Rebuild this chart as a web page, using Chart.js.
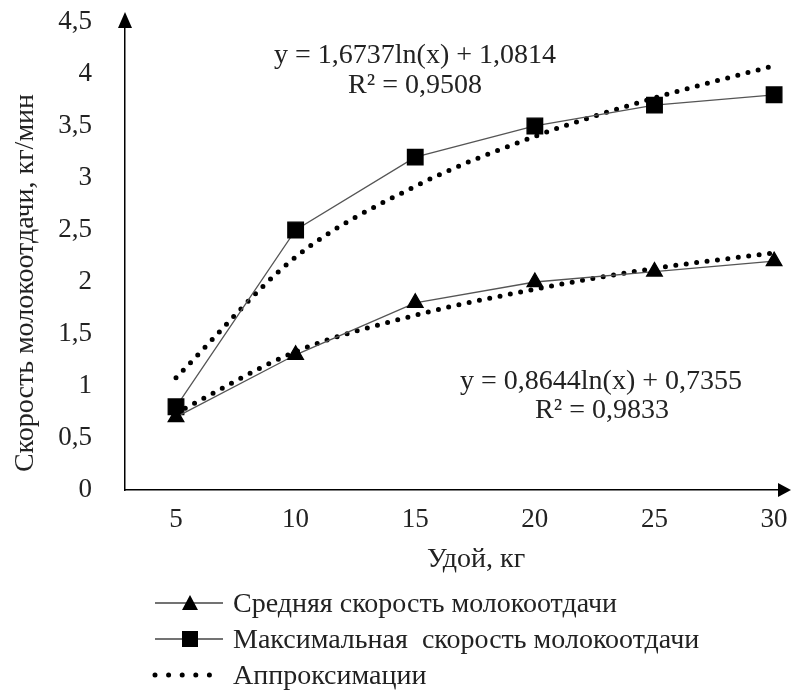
<!DOCTYPE html>
<html>
<head>
<meta charset="utf-8">
<script src="https://cdn.jsdelivr.net/npm/chart.js@4.4.1/dist/chart.umd.min.js"></script>
<style>
    html, body { margin: 0; padding: 0; background: #fff; }
    #wrap { position: relative; width: 792px; height: 690px; }
    #legend { position: absolute; left: 150px; top: 585px; font-family: "Liberation Serif", "Times New Roman", serif; font-size: 28px; color: #222; }
    .row { display: flex; align-items: center; height: 36px; }
    .row svg { margin-right: 8px; }
</style>
</head>
<body>
<div id="wrap">
    <canvas id="milkChart" width="792" height="690"></canvas>
    <div id="legend">
        <div class="row">
            <svg width="75" height="20"><line x1="5" y1="10" x2="73" y2="10" stroke="#444" stroke-width="1.5"/><polygon points="40,2 48,17 32,17" fill="#000"/></svg>
            <span>Средняя скорость молокоотдачи</span>
        </div>
        <div class="row">
            <svg width="75" height="20"><line x1="5" y1="10" x2="73" y2="10" stroke="#444" stroke-width="1.5"/><rect x="32" y="2" width="16" height="16" fill="#000"/></svg>
            <span>Максимальная&nbsp; скорость молокоотдачи</span>
        </div>
        <div class="row">
            <svg width="75" height="20"><line x1="5" y1="10" x2="73" y2="10" stroke="#000" stroke-width="5" stroke-linecap="round" stroke-dasharray="0 13.6"/></svg>
            <span>Аппроксимации</span>
        </div>
    </div>
</div>
<script>
// данные
const milkYield = [5, 10, 15, 20, 25, 30];
const avgSpeed = [0.7, 1.3, 1.8, 2.0, 2.1, 2.2];
const maxSpeed = [0.8, 2.5, 3.2, 3.5, 3.7, 3.8];
const avgTrend = [0.74, 1.33, 1.68, 1.93, 2.13, 2.28];
const maxTrend = [1.08, 2.24, 2.92, 3.40, 3.77, 4.08];
const yTicks = [0, 0.5, 1, 1.5, 2, 2.5, 3, 3.5, 4, 4.5];

const FONT = '"Liberation Serif", "Times New Roman", serif';

function pts(values) {
    return values.map((v, i) => ({ x: milkYield[i], y: v }));
}

// стрелки осей, подписи уравнений и заголовок оси Y
const extras = {
    id: 'extras',
    afterDraw(chart) {
        const c = chart.ctx;
        const a = chart.chartArea;
        const tipX = chart.width - 1;
        c.save();
        c.fillStyle = '#000';
        c.strokeStyle = '#000';
        c.lineWidth = 1.5;
        // продление оси X до стрелки
        c.beginPath();
        c.moveTo(a.right - 1, a.bottom);
        c.lineTo(tipX - 8, a.bottom);
        c.stroke();
        // стрелка Y
        c.beginPath();
        c.moveTo(a.left, a.top - 3);
        c.lineTo(a.left - 7, a.top + 13);
        c.lineTo(a.left + 7, a.top + 13);
        c.closePath();
        c.fill();
        // стрелка X
        c.beginPath();
        c.moveTo(tipX, a.bottom);
        c.lineTo(tipX - 13, a.bottom - 7);
        c.lineTo(tipX - 13, a.bottom + 7);
        c.closePath();
        c.fill();

        c.fillStyle = '#222';
        c.font = '28px ' + FONT;
        c.textAlign = 'center';
        c.textBaseline = 'middle';
        c.fillText('y = 1,6737ln(x) + 1,0814', 415, 56);
        c.fillText('R² = 0,9508', 415, 86);
        c.fillText('y = 0,8644ln(x) + 0,7355', 601, 382);
        c.fillText('R² = 0,9833', 602, 411);

        c.fillText('Удой, кг', 476, 560);

        c.translate(26, 283);
        c.rotate(-Math.PI / 2);
        c.fillText('Скорость молокоотдачи, кг/мин', 0, 0);
        c.restore();
    }
};

new Chart(document.getElementById('milkChart'), {
    type: 'line',
    data: {
        datasets: [
            {
                label: 'Средняя скорость молокоотдачи',
                data: pts(avgSpeed),
                borderColor: '#555',
                borderWidth: 1.3,
                pointStyle: 'triangle',
                pointRadius: 9,
                pointBackgroundColor: '#000',
                pointBorderColor: '#000',
                tension: 0,
                order: 1
            },
            {
                label: 'Максимальная скорость молокоотдачи',
                data: pts(maxSpeed),
                borderColor: '#555',
                borderWidth: 1.3,
                pointStyle: 'rect',
                pointRadius: 11,
                pointBackgroundColor: '#000',
                pointBorderColor: '#000',
                tension: 0,
                order: 1
            },
            {
                label: 'Аппроксимация (средняя)',
                data: pts(avgTrend),
                borderColor: '#000',
                borderWidth: 5,
                borderDash: [0, 10.5],
                borderCapStyle: 'round',
                pointRadius: 0,
                cubicInterpolationMode: 'monotone',
                order: 2
            },
            {
                label: 'Аппроксимация (максимальная)',
                data: pts(maxTrend),
                borderColor: '#000',
                borderWidth: 5,
                borderDash: [0, 10.5],
                borderCapStyle: 'round',
                pointRadius: 0,
                cubicInterpolationMode: 'monotone',
                order: 2
            }
        ]
    },
    options: {
        responsive: false,
        animation: false,
        clip: false,
        layout: { padding: { top: 15, right: 3, left: 40, bottom: 0 } },
        plugins: {
            legend: { display: false },
            tooltip: { enabled: false }
        },
        scales: {
            x: {
                type: 'linear',
                min: 2.868,
                max: 30.234,
                afterBuildTicks: scale => { scale.ticks = milkYield.map(v => ({ value: v })); },
                afterFit: scale => {
                    scale.height = 200;
                    scale.paddingLeft = 0;
                    scale.paddingRight = 0;
                },
                grid: { display: false },
                border: { display: true, color: '#000', width: 1.5 },
                ticks: { color: '#222', padding: 6, font: { family: FONT, size: 27 }, autoSkip: false, maxRotation: 0 }
            },
            y: {
                min: 0,
                max: 4.567,
                afterBuildTicks: scale => { scale.ticks = yTicks.map(v => ({ value: v })); },
                afterFit: scale => {
                    scale.width = 85;
                    scale.paddingTop = 0;
                    scale.paddingBottom = 0;
                },
                grid: { display: false },
                border: { display: true, color: '#000', width: 1.5 },
                ticks: {
                    color: '#222',
                    padding: 25,
                    font: { family: FONT, size: 27 },
                    callback: v => String(v).replace('.', ',')
                }
            }
        }
    },
    plugins: [extras]
});
</script>
</body>
</html>
